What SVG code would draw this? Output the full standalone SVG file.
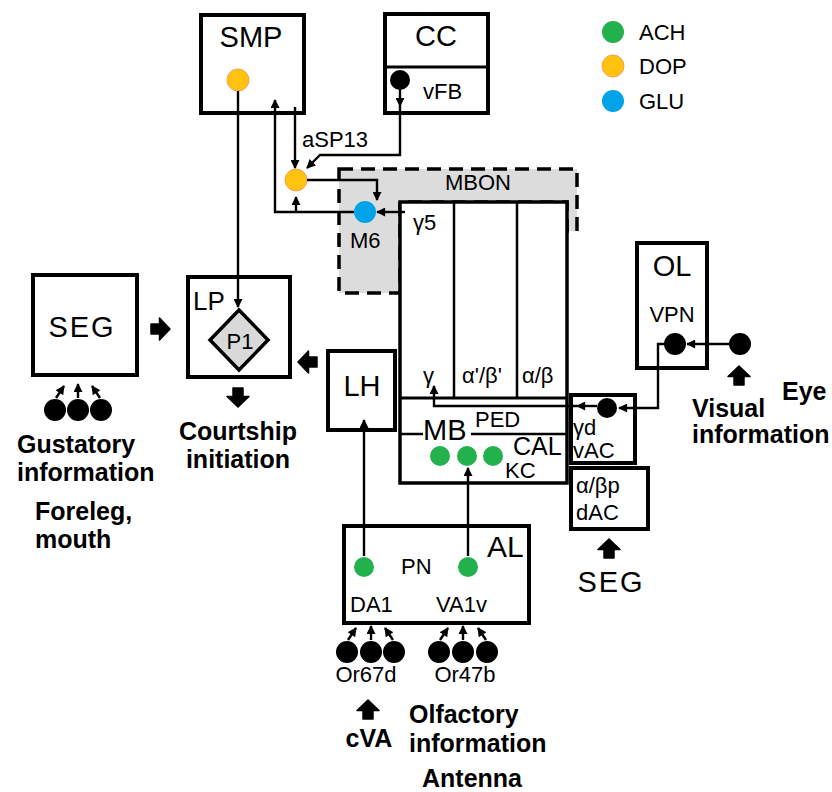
<svg xmlns="http://www.w3.org/2000/svg" width="832" height="792" viewBox="0 0 832 792">
<defs>
<marker id="ah" viewBox="0 0 10 10" refX="9" refY="5" markerWidth="10" markerHeight="9" markerUnits="userSpaceOnUse" orient="auto"><path d="M0,0 L10,5 L0,10 Z" fill="#000"/></marker>
<path id="blk" d="M0,-10 L11,0.5 L5,0.5 L5,9 L-5,9 L-5,0.5 L-11,0.5 Z" fill="#000" stroke="#000" stroke-width="1.5" stroke-linejoin="round"/>
</defs>
<style>
.box{fill:#fff;stroke:#000;stroke-width:4}
.t{font-family:"Liberation Sans",Arial,sans-serif;fill:#000}
.big{font-size:29px}
.sm{font-size:22px}
.b{font-size:25px;font-weight:bold}
.ca{stroke:#000;stroke-width:2.4;fill:none;marker-end:url(#ah)}
.dot{fill:#000}
.ach{fill:#22B14C}
.dop{fill:#FFC20E;stroke:#F5A05A;stroke-width:1}
.glu{fill:#00A2E8}
.mid{text-anchor:middle}
</style>
<rect width="832" height="792" fill="#fff"/>

<g id="MBON">
<polygon points="339,169 577,169 577,231 567,231 567,202 400,202 400,293 339,293" fill="#DCDCDC" stroke="#000" stroke-width="3.5" stroke-dasharray="14,8"/>
<text class="t sm" x="445" y="190">MBON</text>
</g>

<g id="SMP">
<rect class="box" x="201" y="15" width="103" height="98"/>
<text class="t big mid" x="251" y="47">SMP</text>
<circle class="dop" cx="238" cy="80" r="11"/>
</g>

<g id="CC">
<rect class="box" x="385" y="14" width="103" height="99"/>
<line x1="385" y1="67" x2="488" y2="67" stroke="#000" stroke-width="3"/>
<text class="t big mid" x="436" y="46">CC</text>
<circle class="dot" cx="400" cy="80" r="10"/>
<text class="t sm" x="423" y="99">vFB</text>
</g>

<g id="aSP13">
<circle class="dop" cx="296" cy="180" r="11"/>
<text class="t sm" x="302" y="147">aSP13</text>
</g>

<g id="M6">
<circle class="glu" cx="365" cy="212" r="11"/>
<text class="t sm" x="350" y="248">M6</text>
</g>

<g id="MB">
<rect x="400" y="202" width="167" height="281" fill="#fff" stroke="#000" stroke-width="3.5"/>
<line x1="454" y1="202" x2="454" y2="398" stroke="#000" stroke-width="2.5"/>
<line x1="517" y1="202" x2="517" y2="398" stroke="#000" stroke-width="2.5"/>
<line x1="400" y1="398" x2="567" y2="398" stroke="#000" stroke-width="3"/>
<line x1="400" y1="434" x2="423" y2="434" stroke="#000" stroke-width="2.5"/>
<line x1="471" y1="434" x2="567" y2="434" stroke="#000" stroke-width="2.5"/>
<text class="t sm" x="413" y="230">γ5</text>
<text class="t sm" x="423" y="383">γ</text>
<text class="t sm" x="462" y="383">α'/β'</text>
<text class="t sm" x="522" y="383">α/β</text>
<text class="t sm" x="475" y="427">PED</text>
<text class="t big" x="423" y="440">MB</text>
<text class="t" style="font-size:25px" x="513" y="455">CAL</text>
<circle class="ach" cx="440" cy="456" r="10"/>
<circle class="ach" cx="467" cy="456" r="10"/>
<circle class="ach" cx="493" cy="456" r="10"/>
<text class="t sm" x="505" y="478">KC</text>
</g>

<g id="LH">
<rect class="box" x="328" y="351" width="67" height="79"/>
<text class="t big mid" x="362" y="396">LH</text>
</g>

<g id="LP">
<rect class="box" x="188" y="277" width="102" height="100"/>
<text class="t" style="font-size:26px" x="193" y="310">LP</text>
<polygon points="239,310 268,340 239,370 210,340" fill="#D9D9D9" stroke="#000" stroke-width="3.5" stroke-linejoin="miter"/>
<text class="t sm mid" x="240" y="349">P1</text>
</g>

<g id="SEG">
<rect class="box" x="33" y="275" width="104" height="100"/>
<text class="t mid" x="82" y="337" style="letter-spacing:2px;font-size:29px">SEG</text>
<circle class="dot" cx="55" cy="410" r="11"/>
<circle class="dot" cx="78" cy="410" r="11"/>
<circle class="dot" cx="101" cy="410" r="11"/>
</g>

<g id="OL">
<rect class="box" x="637" y="243" width="70" height="125"/>
<text class="t big mid" x="672" y="276">OL</text>
<text class="t sm mid" x="672" y="322">VPN</text>
<circle class="dot" cx="675" cy="344" r="11"/>
</g>

<g id="Eye">
<circle class="dot" cx="740" cy="344" r="11"/>
</g>

<g id="vAC">
<rect class="box" x="571" y="395" width="64" height="68"/>
<circle class="dot" cx="607" cy="408" r="10"/>
<text class="t sm" x="573" y="435">γd</text>
<text class="t sm" x="573" y="458">vAC</text>
</g>

<g id="dAC">
<rect class="box" x="571" y="468" width="77" height="61"/>
<text class="t sm" x="576" y="493">α/βp</text>
<text class="t sm" x="576" y="520">dAC</text>
</g>

<g id="AL">
<rect class="box" x="344" y="526" width="185" height="97"/>
<text class="t big" x="487" y="557" style="font-size:30px">AL</text>
<circle class="ach" cx="364" cy="567" r="10"/>
<circle class="ach" cx="468" cy="567" r="10"/>
<text class="t sm" x="401" y="574">PN</text>
<text class="t sm" x="350" y="612">DA1</text>
<text class="t sm" x="436" y="612">VA1v</text>
</g>

<g id="Or67d">
<circle class="dot" cx="347" cy="652" r="11"/>
<circle class="dot" cx="371" cy="652" r="11"/>
<circle class="dot" cx="394" cy="652" r="11"/>
<text class="t sm mid" x="366" y="682">Or67d</text>
</g>

<g id="Or47b">
<circle class="dot" cx="439" cy="652" r="11"/>
<circle class="dot" cx="463" cy="652" r="11"/>
<circle class="dot" cx="487" cy="652" r="11"/>
<text class="t sm mid" x="465" y="682">Or47b</text>
</g>

<g id="legend">
<circle class="ach" cx="613" cy="32" r="11"/>
<text class="t sm" x="639" y="40">ACH</text>
<circle class="dop" cx="613" cy="66" r="11"/>
<text class="t sm" x="639" y="74">DOP</text>
<circle class="glu" cx="613" cy="101" r="11"/>
<text class="t sm" x="639" y="109">GLU</text>
</g>

<g id="labels">
<text class="t b" x="17" y="453">Gustatory</text>
<text class="t b" x="17" y="481">information</text>
<text class="t b" x="35" y="520">Foreleg,</text>
<text class="t b" x="35" y="548">mouth</text>
<text class="t b mid" x="238" y="440">Courtship</text>
<text class="t b mid" x="238" y="468">initiation</text>
<text class="t b" x="782" y="400">Eye</text>
<text class="t b" x="692" y="417">Visual</text>
<text class="t b" x="692" y="443">information</text>
<text class="t mid" x="611" y="592" style="letter-spacing:2px;font-size:29px">SEG</text>
<text class="t b mid" x="369" y="747">cVA</text>
<text class="t b" x="409" y="723">Olfactory</text>
<text class="t b" x="409" y="752">information</text>
<text class="t b" x="422" y="787">Antenna</text>
</g>

<g id="connectors">
<path class="ca" d="M238,91 V307"/>
<path class="ca" d="M354,212 H275 V100"/>
<path class="ca" d="M296,212 V197"/>
<path class="ca" d="M295,107 V168"/>
<path class="ca" d="M400,90 V106"/>
<path class="ca" d="M400,106 V155 H320 L307,168"/>
<path class="ca" d="M307,180 H377 V200"/>
<path class="ca" d="M405,212 H377"/>
<path class="ca" d="M597,406 H577"/>
<path class="ca" d="M577,406 H434 V386"/>
<path class="ca" d="M664,344 H658 V408 H619"/>
<path class="ca" d="M729,344 H687"/>
<path class="ca" d="M364,556 V420"/>
<path class="ca" d="M468,556 V468"/>
<path class="ca" d="M56,398 L64,386"/>
<path class="ca" d="M78,398 V384"/>
<path class="ca" d="M100,398 L92,386"/>
<path class="ca" d="M348,640 L356,628"/>
<path class="ca" d="M371,640 V626"/>
<path class="ca" d="M393,640 L385,628"/>
<path class="ca" d="M440,640 L448,628"/>
<path class="ca" d="M463,640 V626"/>
<path class="ca" d="M486,640 L478,628"/>
<use href="#blk" transform="translate(160,329) rotate(90)"/>
<use href="#blk" transform="translate(308,362) rotate(-90)"/>
<use href="#blk" transform="translate(238,397) rotate(180)"/>
<use href="#blk" transform="translate(739,376)"/>
<use href="#blk" transform="translate(609,549)"/>
<use href="#blk" transform="translate(368,710)"/>
</g>
</svg>
